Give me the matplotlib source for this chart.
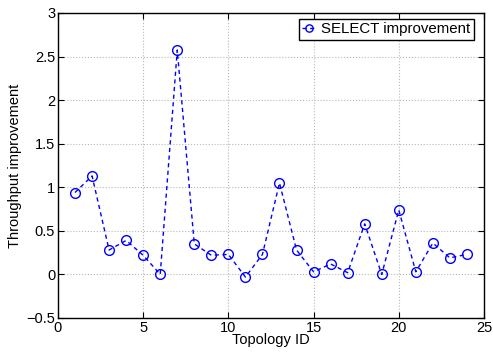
import matplotlib
matplotlib.use("Agg")
import matplotlib.pyplot as plt

topology_ids = list(range(1, 25))
improvement = [0.94, 1.13, 0.28, 0.39, 0.22, 0.0, 2.575, 0.35, 0.22, 0.23, -0.03, 0.23,
               1.05, 0.28, 0.03, 0.12, 0.02, 0.58, 0.0, 0.74, 0.03, 0.36, 0.19, 0.23]
xticks = [0, 5, 10, 15, 20, 25]
yticks = [-0.5, 0, 0.5, 1, 1.5, 2, 2.5, 3]
ytick_labels = ["\u22120.5", "0", "0.5", "1", "1.5", "2", "2.5", "3"]

plt.rcParams['font.family'] = ['Liberation Sans', 'DejaVu Sans']
fig = plt.figure(figsize=(4.93, 3.52), dpi=100)
ax = fig.add_axes([0.1176, 0.0966, 0.8641, 0.8665])
ax.plot(topology_ids, improvement, linestyle='--', color='blue', marker='o',
        markerfacecolor='none', markeredgecolor='blue', markersize=7, linewidth=1,
        markeredgewidth=1, dashes=(3, 2.5), label='SELECT improvement')
ax.set_xlim(0, 25)
ax.set_ylim(-0.5, 3)
ax.set_xticks(xticks)
ax.set_yticks(yticks)
ax.set_yticklabels(ytick_labels)
ax.tick_params(direction='in', top=True, right=True, labelsize=10.5, length=4, pad=2)
ax.grid(True, linestyle=':', color='#b8b8b8', linewidth=0.8)
for s in ax.spines.values():
    s.set_linewidth(1)
ax.set_xlabel('Topology ID', fontsize=10.5, labelpad=-1)
ax.set_ylabel('Throughput improvement', fontsize=10.5, labelpad=3)
leg = ax.legend(loc='upper right', bbox_to_anchor=(0.9765, 0.980), fontsize=10.8,
                fancybox=False, framealpha=1, edgecolor='black', handlelength=1.0,
                handletextpad=0.3, borderpad=0.22, borderaxespad=0, markerscale=0.75)
leg.get_frame().set_linewidth(1)
fig.savefig('out.png', dpi=100)
